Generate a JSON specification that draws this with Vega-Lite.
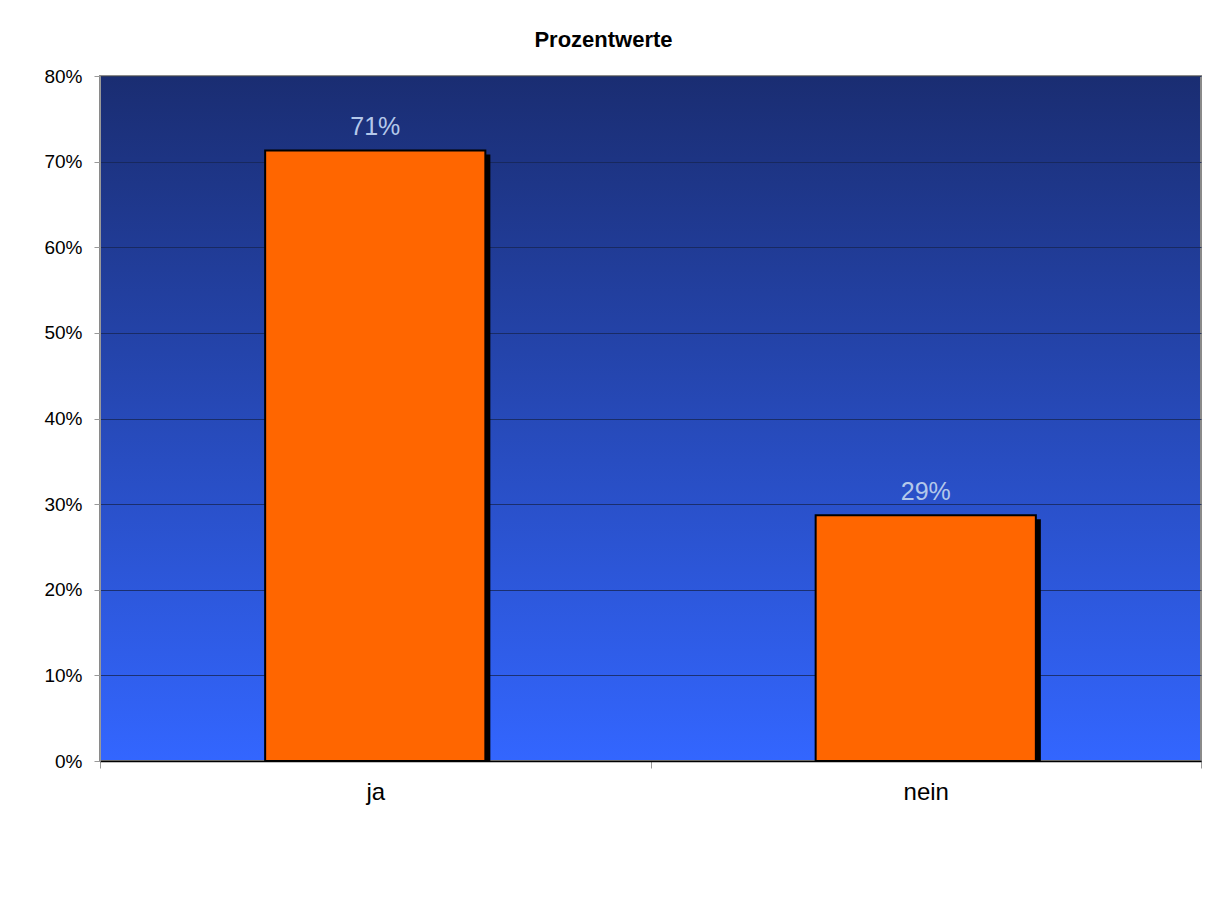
{
  "$schema": "https://vega.github.io/schema/vega-lite/v6.json",
  "width": 1101,
  "height": 685,
  "autosize": {"type": "none"},
  "padding": {"left": 100, "top": 76, "right": 15, "bottom": 138},
  "background": "white",
  "title": {
    "text": "Prozentwerte",
    "fontSize": 22,
    "fontWeight": "bold",
    "font": "Liberation Sans",
    "color": "black",
    "anchor": "middle",
    "dx": -47,
    "offset": 15
  },
  "config": {
    "font": "Liberation Sans",
    "view": {
      "stroke": "#8a8a8a",
      "strokeWidth": 2,
      "fill": {
        "gradient": "linear",
        "x1": 0, "y1": 0, "x2": 0, "y2": 1,
        "stops": [
          {"offset": 0, "color": "#1a2d72"},
          {"offset": 1, "color": "#3366ff"}
        ]
      }
    }
  },
  "data": {
    "values": [
      {"antwort": "ja", "anteil": 0.713, "label": "71%"},
      {"antwort": "nein", "anteil": 0.287, "label": "29%"}
    ]
  },
  "encoding": {
    "x": {
      "field": "antwort",
      "type": "nominal",
      "sort": null,
      "scale": {"paddingInner": 0, "paddingOuter": 0},
      "axis": {
        "title": null,
        "labelAngle": 0,
        "labelFontSize": 24,
        "labelColor": "black",
        "labelPadding": 12,
        "tickBand": "extent",
        "tickSize": 7,
        "tickColor": "#999999",
        "domainColor": "black",
        "domainWidth": 1.5,
        "grid": false
      }
    },
    "y": {
      "field": "anteil",
      "type": "quantitative",
      "scale": {"domain": [0, 0.8], "nice": false},
      "axis": {
        "title": null,
        "format": ".0%",
        "values": [0, 0.1, 0.2, 0.3, 0.4, 0.5, 0.6, 0.7, 0.8],
        "labelFontSize": 19,
        "labelColor": "black",
        "labelPadding": 12,
        "tickSize": 6,
        "tickColor": "#999999",
        "domainColor": "#999999",
        "domainWidth": 1,
        "grid": true,
        "gridColor": "#172655",
        "gridWidth": 1,
        "gridOpacity": 0.8
      }
    }
  },
  "layer": [
    {
      "mark": {"type": "bar", "color": "black", "width": {"band": 0.4}, "xOffset": 5, "yOffset": 4, "clip": true}
    },
    {
      "mark": {"type": "bar", "color": "#ff6600", "width": {"band": 0.4}, "stroke": "black", "strokeWidth": 2}
    },
    {
      "mark": {"type": "text", "baseline": "bottom", "dy": -10, "fontSize": 25, "color": "#b4c8ea"},
      "encoding": {"text": {"field": "label"}}
    }
  ]
}
